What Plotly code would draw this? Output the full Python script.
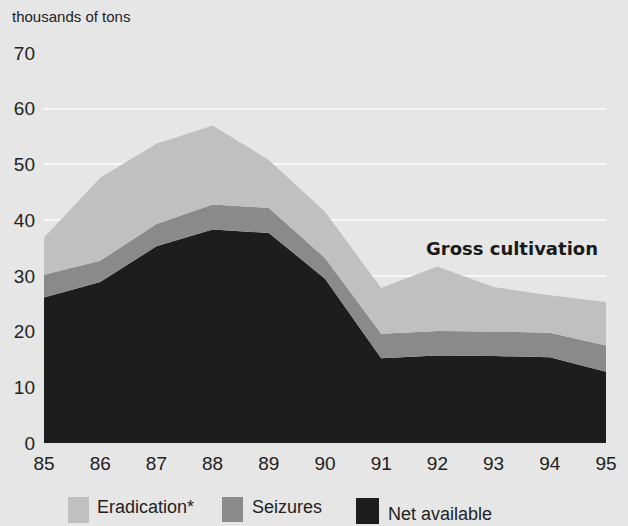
import plotly.graph_objects as go

years = [85, 86, 87, 88, 89, 90, 91, 92, 93, 94, 95]
year_labels = ["85", "86", "87", "88", "89", "90", "91", "92", "93", "94", "95"]
net_available = [26.1, 28.9, 35.3, 38.3, 37.7, 29.5, 15.2, 15.7, 15.6, 15.4, 12.8]
seizures = [4.1, 3.8, 4.0, 4.5, 4.5, 3.7, 4.4, 4.4, 4.4, 4.4, 4.7]
eradication = [6.7, 14.9, 14.4, 14.2, 8.6, 8.3, 8.2, 11.6, 8.0, 6.7, 7.8]
y_ticks = [0, 10, 20, 30, 40, 50, 60, 70]

BG = "#e6e6e6"
C_ERAD = "#c0c0c0"
C_SEIZ = "#8a8a8a"
C_NET = "#1d1d1d"
FONT = "Liberation Sans, Arial, Helvetica, sans-serif"

fig = go.Figure()
for name, vals, col in [("Net available", net_available, C_NET),
                        ("Seizures", seizures, C_SEIZ),
                        ("Eradication*", eradication, C_ERAD)]:
    fig.add_trace(go.Scatter(
        x=years, y=vals, name=name, mode="lines",
        stackgroup="one", line=dict(width=0, color=col),
        fillcolor=col, showlegend=False, hoverinfo="x+y+name"))

fig.update_layout(
    width=628, height=526,
    margin=dict(l=44, r=22, t=53, b=83),
    paper_bgcolor=BG, plot_bgcolor=BG,
    font=dict(family=FONT, color="#222222", size=19),
    showlegend=False,
)
fig.update_xaxes(
    range=[85, 95], tickvals=years, ticktext=year_labels,
    showgrid=False, zeroline=False, showline=False, ticks="",
    ticklabelstandoff=7, tickfont=dict(size=19, color="#222222"),
)
fig.update_yaxes(
    range=[0, 70], tickvals=y_ticks, showgrid=True, gridcolor="#f7f7f7",
    gridwidth=2, zeroline=False, showline=False, ticks="",
    ticklabelstandoff=8, tickfont=dict(size=19, color="#222222"),
)

fig.add_annotation(x=-0.06, y=1.0 + 36/390, xref="paper", yref="paper",
                   text="thousands of tons", showarrow=False,
                   xanchor="left", yanchor="middle",
                   font=dict(size=15, color="#222222"))
fig.add_annotation(x=94.89, y=35.0, text="<b>Gross cultivation</b>",
                   showarrow=False, xanchor="right", yanchor="middle",
                   font=dict(family="DejaVu Sans, sans-serif", size=18,
                             color="#1a1a1a"))

def px_x(x):
    return (x - 44) / 562.0

def px_y(y):
    return 1 - (y - 53) / 390.0

legend_items = [("Eradication*", C_ERAD, 68, 89, 497, 523, 95, 507),
                ("Seizures", C_SEIZ, 222, 243, 497, 522, 250, 507),
                ("Net available", C_NET, 356, 379, 498, 524, 386, 514)]
for label, col, x0, x1, y0, y1, tx, ty in legend_items:
    fig.add_shape(type="rect", xref="paper", yref="paper",
                  x0=px_x(x0), x1=px_x(x1), y0=px_y(y1), y1=px_y(y0),
                  fillcolor=col, line=dict(width=0))
    fig.add_annotation(x=px_x(tx), y=px_y(ty), xref="paper", yref="paper",
                       text=label, showarrow=False, xanchor="left",
                       yanchor="middle", font=dict(size=18, color="#222222"))

fig.write_html("out.html", config={"displayModeBar": False},
               post_script="document.body.style.margin='0';document.body.style.background='%s';" % BG)
